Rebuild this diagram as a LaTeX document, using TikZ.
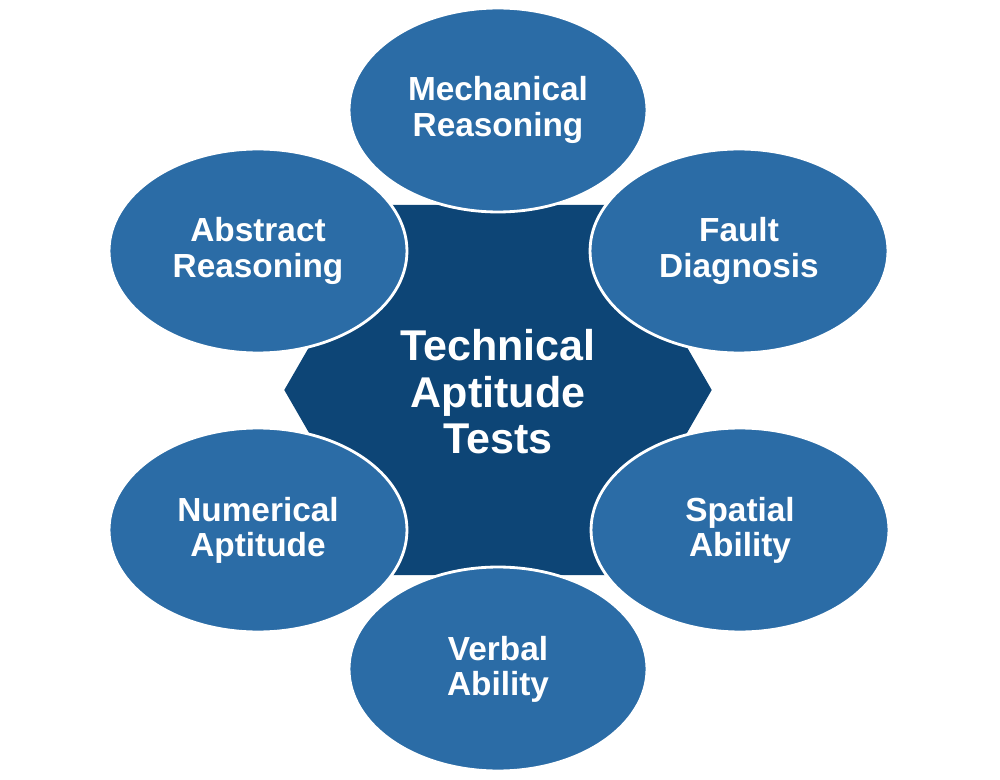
\documentclass[tikz,border=0pt]{standalone}
\usepackage{fontspec}
\setmainfont{Liberation Sans}
\usetikzlibrary{shapes.geometric}
\definecolor{ellblue}{HTML}{2B6CA6}
\definecolor{hexblue}{HTML}{0D4576}
\begin{document}
\begin{tikzpicture}[x=0.02cm,y=-0.02cm,
  oval/.style={ellipse,fill=ellblue,draw=white,line width=1.6pt,minimum width=5.96cm,minimum height=4.08cm,inner sep=0pt,
    font=\fontsize{19}{20}\selectfont\bfseries,text=white,align=center},
  hexa/.style={regular polygon,regular polygon sides=6,fill=hexblue,minimum size=8.55cm,inner sep=0pt}]
\useasboundingbox (0,0) rectangle (1000,780);
\node[hexa] (c) at (498,390) {};
\node[oval] (m) at (498,110) {Mechanical\\Reasoning};
\node[oval] (f) at (739,251) {Fault\\Diagnosis};
\node[oval] (s) at (740,530) {Spatial\\Ability};
\node[oval] (v) at (498,669) {Verbal\\Ability};
\node[oval] (n) at (258,530) {Numerical\\Aptitude};
\node[oval] (a) at (258,251) {Abstract\\Reasoning};
\node[font=\fontsize{24.5}{26.5}\selectfont\bfseries,text=white,align=center] (t) at (498,392) {Technical\\Aptitude\\Tests};
\end{tikzpicture}
\end{document}
